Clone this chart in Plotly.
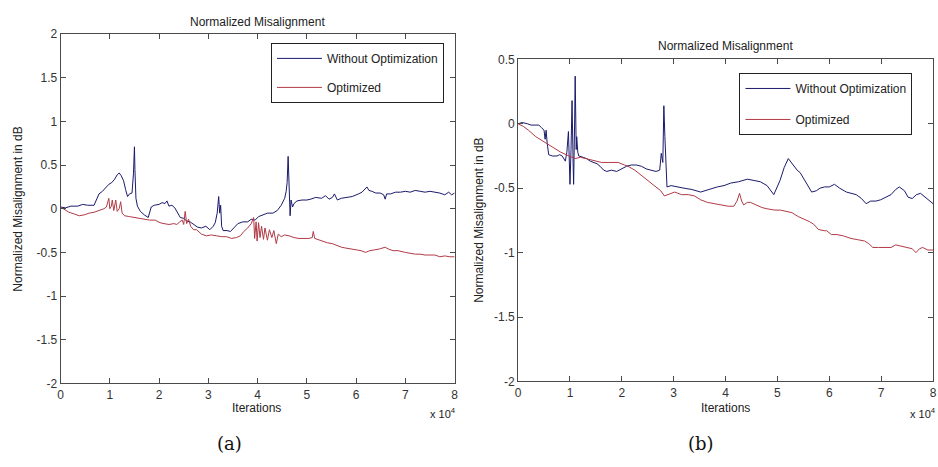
import plotly.graph_objects as go

# ---------------- data (x in units of 10^4 iterations) ----------------
a_blue_x = [0.00, 0.10, 0.21, 0.35, 0.45, 0.55, 0.68, 0.72, 0.78, 0.85, 0.92, 0.98, 1.04, 1.10, 1.15, 1.19,
            1.23, 1.28, 1.32, 1.36, 1.40, 1.45, 1.48, 1.50, 1.51, 1.53, 1.56, 1.62, 1.70, 1.78, 1.84, 1.90,
            2.00, 2.06, 2.12, 2.16, 2.20, 2.26, 2.32, 2.38, 2.43, 2.50, 2.56, 2.63, 2.70, 2.78, 2.86, 2.95,
            3.03, 3.10, 3.14, 3.18, 3.21, 3.23, 3.25, 3.27, 3.30, 3.38, 3.45, 3.52, 3.60, 3.70, 3.80, 3.87,
            3.95, 4.02, 4.10, 4.20, 4.31, 4.40, 4.48, 4.55, 4.58, 4.60, 4.62, 4.64, 4.66, 4.68, 4.71, 4.74,
            4.80, 4.90, 5.00, 5.08, 5.18, 5.30, 5.38, 5.45, 5.52, 5.56, 5.62, 5.70, 5.82, 5.92, 6.05, 6.12,
            6.22, 6.26, 6.32, 6.40, 6.49, 6.56, 6.59, 6.62, 6.70, 6.80, 6.90, 7.00, 7.10, 7.20, 7.30, 7.40,
            7.50, 7.60, 7.70, 7.80, 7.88, 7.94, 8.00]
a_blue_y = [0.02, 0.01, 0.03, 0.03, 0.05, 0.04, 0.04, 0.10, 0.17, 0.20, 0.24, 0.28, 0.30, 0.34, 0.39, 0.41,
            0.38, 0.32, 0.22, 0.14, 0.17, 0.18, 0.40, 0.71, 0.45, 0.12, 0.03, -0.03, -0.07, -0.10, 0.02, 0.04,
            0.05, 0.07, 0.06, 0.09, 0.03, 0.04, 0.01, -0.05, -0.10, -0.11, -0.14, -0.15, -0.18, -0.21, -0.22, -0.20,
            -0.24, -0.20, -0.16, -0.05, 0.14, -0.05, 0.04, -0.20, -0.25, -0.25, -0.26, -0.22, -0.17, -0.15, -0.15, -0.12,
            -0.13, -0.09, -0.07, -0.05, -0.05, -0.02, 0.04, 0.12, 0.20, 0.30, 0.60, 0.10, -0.08, 0.10, 0.02, 0.06,
            0.09, 0.10, 0.10, 0.11, 0.13, 0.12, 0.15, 0.11, 0.13, 0.17, 0.10, 0.12, 0.13, 0.14, 0.17, 0.19,
            0.25, 0.21, 0.20, 0.18, 0.18, 0.16, 0.11, 0.17, 0.17, 0.19, 0.19, 0.20, 0.19, 0.21, 0.20, 0.19,
            0.20, 0.19, 0.18, 0.16, 0.19, 0.16, 0.18]

a_red_x = [0.00, 0.08, 0.17, 0.28, 0.38, 0.48, 0.58, 0.68, 0.80, 0.88, 0.93, 0.98, 1.00, 1.03, 1.05, 1.08,
           1.12, 1.15, 1.19, 1.22, 1.25, 1.30, 1.40, 1.50, 1.60, 1.70, 1.81, 1.92, 2.02, 2.10, 2.20, 2.30,
           2.36, 2.42, 2.47, 2.50, 2.53, 2.56, 2.60, 2.64, 2.70, 2.76, 2.86, 2.96, 3.06, 3.17, 3.27, 3.37,
           3.47, 3.57, 3.65, 3.72, 3.80, 3.87, 3.92, 3.94, 3.97, 3.99, 4.02, 4.05, 4.08, 4.12, 4.15, 4.20,
           4.24, 4.29, 4.33, 4.38, 4.42, 4.48, 4.55, 4.64, 4.74, 4.84, 4.94, 5.04, 5.11, 5.13, 5.16, 5.25,
           5.32, 5.42, 5.52, 5.60, 5.70, 5.79, 5.90, 6.00, 6.10, 6.19, 6.28, 6.38, 6.48, 6.59, 6.65, 6.75,
           6.85, 7.00, 7.10, 7.20, 7.30, 7.40, 7.50, 7.60, 7.70, 7.80, 7.90, 8.00]
a_red_y = [0.02, -0.01, -0.04, -0.06, -0.08, -0.07, -0.05, -0.04, -0.02, 0.00, 0.02, 0.12, 0.00, 0.03, 0.10, -0.02,
           0.10, -0.03, 0.00, 0.08, -0.05, -0.08, -0.09, -0.10, -0.11, -0.12, -0.13, -0.13, -0.16, -0.17, -0.18, -0.17,
           -0.18, -0.15, -0.13, -0.18, -0.03, -0.17, -0.12, -0.20, -0.24, -0.24, -0.29, -0.31, -0.30, -0.31, -0.32, -0.32,
           -0.34, -0.33, -0.31, -0.26, -0.22, -0.17, -0.10, -0.34, -0.15, -0.37, -0.16, -0.33, -0.20, -0.35, -0.22, -0.36,
           -0.24, -0.33, -0.25, -0.40, -0.29, -0.32, -0.30, -0.31, -0.33, -0.34, -0.34, -0.34, -0.33, -0.26, -0.34, -0.36,
           -0.37, -0.39, -0.40, -0.42, -0.44, -0.45, -0.46, -0.47, -0.48, -0.50, -0.48, -0.47, -0.46, -0.44, -0.46, -0.48,
           -0.48, -0.50, -0.51, -0.52, -0.52, -0.53, -0.53, -0.53, -0.55, -0.54, -0.55, -0.55]

b_blue_x = [0.00, 0.08, 0.18, 0.25, 0.31, 0.40, 0.45, 0.50, 0.52, 0.54, 0.56, 0.59, 0.66, 0.75, 0.80, 0.85,
            0.91, 0.94, 0.97, 1.00, 1.02, 1.04, 1.06, 1.07, 1.09, 1.10, 1.12, 1.13, 1.15, 1.17, 1.25, 1.32,
            1.39, 1.46, 1.52, 1.58, 1.65, 1.71, 1.80, 1.90, 2.00, 2.09, 2.18, 2.28, 2.38, 2.47, 2.56, 2.66,
            2.73, 2.76, 2.79, 2.81, 2.83, 2.85, 2.87, 2.95, 3.05, 3.20, 3.35, 3.52, 3.68, 3.84, 3.97, 4.10,
            4.25, 4.42, 4.55, 4.67, 4.80, 4.93, 5.05, 5.13, 5.21, 5.30, 5.38, 5.44, 5.50, 5.58, 5.66, 5.75,
            5.82, 5.91, 6.00, 6.10, 6.20, 6.33, 6.42, 6.52, 6.62, 6.71, 6.80, 6.90, 6.99, 7.09, 7.19, 7.28,
            7.35, 7.45, 7.52, 7.60, 7.68, 7.76, 7.85, 7.93, 8.00]
b_blue_y = [0.00, 0.01, 0.00, -0.01, -0.01, -0.01, -0.03, -0.05, -0.12, -0.05, -0.15, -0.24, -0.25, -0.25, -0.24, -0.25,
            -0.29, -0.22, -0.06, -0.47, -0.20, 0.18, -0.30, -0.47, 0.03, 0.37, -0.20, -0.10, -0.22, -0.25, -0.26, -0.27,
            -0.29, -0.30, -0.31, -0.33, -0.36, -0.37, -0.36, -0.37, -0.35, -0.33, -0.32, -0.32, -0.33, -0.35, -0.36, -0.37,
            -0.36, -0.23, -0.30, 0.14, -0.10, -0.35, -0.49, -0.48, -0.49, -0.50, -0.51, -0.53, -0.51, -0.49, -0.48, -0.46,
            -0.45, -0.43, -0.44, -0.45, -0.48, -0.55, -0.44, -0.34, -0.27, -0.32, -0.36, -0.38, -0.42, -0.48, -0.53, -0.52,
            -0.50, -0.49, -0.49, -0.47, -0.50, -0.53, -0.54, -0.55, -0.58, -0.62, -0.60, -0.60, -0.59, -0.57, -0.55, -0.51,
            -0.49, -0.52, -0.57, -0.58, -0.55, -0.54, -0.57, -0.59, -0.62]

b_red_x = [0.00, 0.10, 0.20, 0.34, 0.50, 0.66, 0.82, 0.98, 1.10, 1.20, 1.29, 1.40, 1.50, 1.61, 1.75, 1.93,
           2.05, 2.12, 2.25, 2.38, 2.50, 2.63, 2.75, 2.82, 2.90, 3.02, 3.15, 3.28, 3.40, 3.52, 3.65, 3.80,
           3.95, 4.05, 4.16, 4.22, 4.27, 4.31, 4.35, 4.42, 4.48, 4.60, 4.70, 4.80, 4.95, 5.06, 5.18, 5.28,
           5.40, 5.53, 5.62, 5.70, 5.79, 5.90, 5.95, 6.04, 6.15, 6.27, 6.42, 6.55, 6.68, 6.76, 6.84, 6.95,
           7.05, 7.19, 7.28, 7.40, 7.50, 7.60, 7.67, 7.74, 7.80, 7.90, 8.00]
b_red_y = [0.00, -0.02, -0.05, -0.10, -0.14, -0.18, -0.22, -0.25, -0.27, -0.26, -0.27, -0.28, -0.29, -0.30, -0.30, -0.30,
           -0.32, -0.33, -0.36, -0.40, -0.44, -0.48, -0.52, -0.56, -0.55, -0.53, -0.55, -0.55, -0.56, -0.59, -0.61, -0.62,
           -0.63, -0.64, -0.64, -0.60, -0.54, -0.60, -0.63, -0.61, -0.61, -0.63, -0.65, -0.66, -0.67, -0.67, -0.68, -0.69,
           -0.72, -0.74, -0.76, -0.78, -0.82, -0.83, -0.83, -0.86, -0.86, -0.87, -0.89, -0.90, -0.91, -0.93, -0.96, -0.96,
           -0.96, -0.96, -0.94, -0.95, -0.96, -0.97, -1.00, -0.97, -0.96, -0.98, -0.98]

x_ticks = [0, 1, 2, 3, 4, 5, 6, 7, 8]
x_tick_text = ["0", "1", "2", "3", "4", "5", "6", "7", "8"]
a_y_ticks = [-2, -1.5, -1, -0.5, 0, 0.5, 1, 1.5, 2]
a_y_tick_text = ["-2", "-1.5", "-1", "-0.5", "0", "0.5", "1", "1.5", "2"]
b_y_ticks = [-2, -1.5, -1, -0.5, 0, 0.5]
b_y_tick_text = ["-2", "-1.5", "-1", "-0.5", "0", "0.5"]

series_names = ["Without Optimization", "Optimized"]
title_text = "Normalized Misalignment"
ylabel_text = "Normalized Misalignment in dB"
xlabel_text = "Iterations"

BLUE = "#1a1a6c"
RED = "#b03a46"
AXC = "#4a4a4a"
FONT = "Liberation Sans, Arial, sans-serif"
W, H = 938, 467

fig = go.Figure()
fig.add_trace(go.Scatter(x=a_blue_x, y=a_blue_y, mode="lines", name=series_names[0],
                         line=dict(color=BLUE, width=1), xaxis="x", yaxis="y",
                         legend="legend", legendgroup="a1"))
fig.add_trace(go.Scatter(x=a_red_x, y=a_red_y, mode="lines", name=series_names[1],
                         line=dict(color=RED, width=1), xaxis="x", yaxis="y",
                         legend="legend", legendgroup="a2"))
fig.add_trace(go.Scatter(x=b_blue_x, y=b_blue_y, mode="lines", name=series_names[0],
                         line=dict(color=BLUE, width=1), xaxis="x2", yaxis="y2",
                         legend="legend2", legendgroup="b1"))
fig.add_trace(go.Scatter(x=b_red_x, y=b_red_y, mode="lines", name=series_names[1],
                         line=dict(color=RED, width=1), xaxis="x2", yaxis="y2",
                         legend="legend2", legendgroup="b2"))

def px_x(p):
    return p / W

def px_y(p):
    return 1 - p / H

common_axis = dict(showline=True, linecolor=AXC, linewidth=1, mirror="ticks", ticks="inside",
                   ticklen=5, tickcolor=AXC, showgrid=False, zeroline=False,
                   tickfont=dict(family=FONT, size=12, color="#333333"))

fig.update_layout(
    width=W, height=H, margin=dict(l=0, r=0, t=0, b=0),
    paper_bgcolor="white", plot_bgcolor="white", showlegend=True,
    xaxis=dict(domain=[px_x(58), px_x(455)], range=[0, 8], tickvals=x_ticks, ticktext=x_tick_text,
               anchor="y", **common_axis),
    yaxis=dict(domain=[px_y(388), px_y(28)], range=[-2, 2], tickvals=a_y_ticks, ticktext=a_y_tick_text,
               anchor="x", **common_axis),
    xaxis2=dict(domain=[px_x(519), px_x(937)], range=[0, 8], tickvals=x_ticks, ticktext=x_tick_text,
                anchor="y2", **common_axis),
    yaxis2=dict(domain=[px_y(386), px_y(54)], range=[-2, 0.5], tickvals=b_y_ticks, ticktext=b_y_tick_text,
                anchor="x2", **common_axis),
    legend=dict(x=px_x(270), y=px_y(37), xanchor="left", yanchor="top", bgcolor="white",
                bordercolor="#222222", borderwidth=1, font=dict(family=FONT, size=12, color="#222222"),
                traceorder="grouped", tracegroupgap=10, itemwidth=45),
    legend2=dict(x=px_x(742), y=px_y(68), xanchor="left", yanchor="top", bgcolor="white",
                 bordercolor="#222222", borderwidth=1, font=dict(family=FONT, size=12, color="#222222"),
                 traceorder="grouped", tracegroupgap=12, itemwidth=45),
)

ann = []
def add_text(text, xp, yp, size=12, angle=0, family=FONT, color="#222222", xanchor="center"):
    ann.append(dict(text=text, x=px_x(xp), y=px_y(yp), xref="paper", yref="paper", showarrow=False,
                    xanchor=xanchor, yanchor="middle", textangle=angle,
                    font=dict(family=family, size=size, color=color)))

add_text(title_text, 256, 15)
add_text(title_text, 728, 40)
add_text(ylabel_text, 15, 208, angle=-90)
add_text(ylabel_text, 480, 220, angle=-90)
add_text(xlabel_text, 255, 413)
add_text(xlabel_text, 728, 413)
add_text("x 10<sup>4</sup>", 428, 419, size=11, xanchor="left")
add_text("x 10<sup>4</sup>", 912, 419, size=11, xanchor="left")
add_text("(a)", 228, 450, size=18, family="DejaVu Serif, serif", color="#111111")
add_text("(b)", 703, 450, size=18, family="DejaVu Serif, serif", color="#111111")
fig.update_layout(annotations=ann)

fig.write_html("out.html")
